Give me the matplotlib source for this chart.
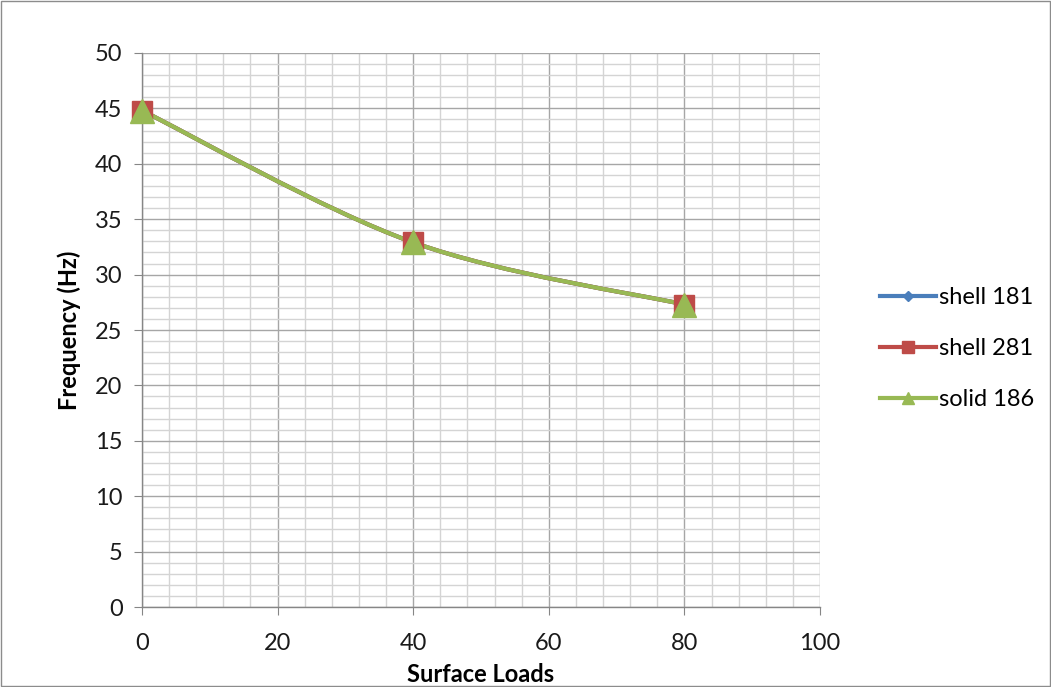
#!/usr/bin/env python3

import numpy as np
import matplotlib
matplotlib.use("Agg")
import matplotlib.pyplot as plt
from matplotlib.path import Path
from matplotlib.patches import PathPatch, Rectangle
from matplotlib.lines import Line2D
from matplotlib.ticker import MultipleLocator


loads = [0, 40, 80]
shell_181 = [44.8, 32.9, 27.3]
shell_281 = [44.8, 32.9, 27.3]
solid_186 = [44.8, 32.9, 27.3]

series = [
	("shell 181", shell_181, "#4A7EBB", "D", 10),
	("shell 281", shell_281, "#BE4B48", "s", 15),
	("solid 186", solid_186, "#98B954", "^", 17),
]

plt.rcParams["font.family"] = ["Lato", "DejaVu Sans"]


def _smooth_path(ax, xs, ys):
	# Excel style smoothed line: cubic bezier segments, catmull-rom control points
	pts = ax.transData.transform(np.column_stack([xs, ys]))
	n = len(pts)
	verts = [pts[0]]
	codes = [Path.MOVETO]
	for i in range(n - 1):
		p0 = pts[max(i - 1, 0)]
		p1 = pts[i]
		p2 = pts[i + 1]
		p3 = pts[min(i + 2, n - 1)]
		c1 = p1 + (p2 - p0) / 6.0
		c2 = p2 - (p3 - p1) / 6.0
		verts += [c1, c2, p2]
		codes += [Path.CURVE4] * 3
	inv = ax.transData.inverted()
	return Path(inv.transform(np.array(verts)), codes)


fig = plt.figure(figsize=(10.51, 6.87), dpi=100)
fig.patches.append(Rectangle((0.001, 0.001), 0.998, 0.998, transform=fig.transFigure,
	fill=False, edgecolor="#8C8C8C", linewidth=1.0))

ax = fig.add_axes([0.1351, 0.1164, 0.6451, 0.8065])
ax.set_xlim(0, 100)
ax.set_ylim(0, 50)
ax.xaxis.set_major_locator(MultipleLocator(20))
ax.xaxis.set_minor_locator(MultipleLocator(4))
ax.yaxis.set_major_locator(MultipleLocator(5))
ax.yaxis.set_minor_locator(MultipleLocator(1))
ax.grid(True, which="major", color="#A6A6A6", linewidth=1.0)
ax.grid(True, which="minor", color="#D4D4D4", linewidth=1.0)
ax.set_axisbelow(True)

for side in ("top", "right"):
	ax.spines[side].set_visible(False)
for side in ("left", "bottom"):
	ax.spines[side].set_color("#868686")
	ax.spines[side].set_linewidth(1.0)

ax.tick_params(which="major", direction="out", length=6, color="#868686",
	labelsize=17, pad=13, labelcolor="#1A1A1A")
ax.tick_params(axis="y", which="major", pad=8)
ax.tick_params(which="minor", length=0)

handles = []
for name, vals, color, marker, msize in series:
	path = _smooth_path(ax, loads, vals)
	ax.add_patch(PathPatch(path, fill=False, edgecolor=color, linewidth=3.0,
		capstyle="round", joinstyle="round", zorder=3))
	ax.plot(loads, vals, linestyle="none", marker=marker, markersize=msize,
		color=color, clip_on=False, zorder=4)
	handles.append(Line2D([], [], color=color, linewidth=3.0, marker=marker,
		markersize=msize * 0.55, label=name))

ax.set_xlabel("Surface Loads", fontsize=17, fontweight="bold", labelpad=6)
ax.set_ylabel("Frequency (Hz)", fontsize=17, fontweight="bold", labelpad=10)

fig.legend(handles=handles, loc="center left", bbox_to_anchor=(0.828, 0.493),
	frameon=False, fontsize=17, handlelength=2.4, handletextpad=0.1,
	labelspacing=1.27, borderaxespad=0)

fig.savefig("out.png", dpi=100)
